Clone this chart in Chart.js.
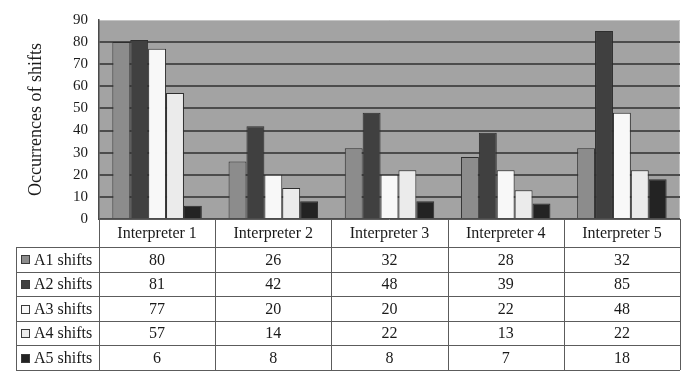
<!DOCTYPE html>
<html>
<head>
<meta charset="utf-8">
<script src="https://cdn.jsdelivr.net/npm/chart.js@4/dist/chart.umd.min.js"></script>
<style>
  html, body { margin: 0; padding: 0; background: #fff; }
  canvas { display: block; }
</style>
</head>
<body>
<canvas id="shiftsChart" width="700" height="384"></canvas>
<script>
const categories = ['Interpreter 1', 'Interpreter 2', 'Interpreter 3', 'Interpreter 4', 'Interpreter 5'];
const seriesNames = ['A1 shifts', 'A2 shifts', 'A3 shifts', 'A4 shifts', 'A5 shifts'];
const a1Shifts = [80, 26, 32, 28, 32];
const a2Shifts = [81, 42, 48, 39, 85];
const a3Shifts = [77, 20, 20, 22, 48];
const a4Shifts = [57, 14, 22, 13, 22];
const a5Shifts = [6, 8, 8, 7, 18];
const yTicks = [0, 10, 20, 30, 40, 50, 60, 70, 80, 90];

const seriesValues = [a1Shifts, a2Shifts, a3Shifts, a4Shifts, a5Shifts];
const seriesColors = ['#8c8c8c', '#404040', '#f8f8f8', '#ebebeb', '#232323'];
const serif = '"Liberation Serif", "Times New Roman", serif';
const textColor = '#1a1a1a';

// grey plot area behind the bars
const plotBackground = {
    id: 'plotBackground',
    beforeDraw(chart) {
        const { ctx, chartArea: a } = chart;
        ctx.save();
        ctx.fillStyle = '#a3a3a3';
        ctx.fillRect(a.left, a.top, a.right - a.left, a.bottom - a.top);
        ctx.strokeStyle = '#c4c4c4';
        ctx.lineWidth = 1;
        ctx.beginPath();
        ctx.moveTo(a.left, a.top + 0.5);
        ctx.lineTo(a.right - 0.5, a.top + 0.5);
        ctx.lineTo(a.right - 0.5, a.bottom);
        ctx.stroke();
        ctx.restore();
    }
};

// data table under the plot, columns follow the x scale
const dataTable = {
    id: 'dataTable',
    afterDraw(chart) {
        const { ctx, chartArea: a } = chart;
        const xs = chart.scales.x;
        const colW = (xs.right - xs.left) / categories.length;
        const headerH = 28;
        const rowH = 24.6;
        const tableLeft = 16;
        const top = a.bottom;
        const rowsTop = top + headerH;
        const bottom = rowsTop + rowH * seriesNames.length;

        ctx.save();
        ctx.fillStyle = '#ffffff';
        ctx.fillRect(xs.left, top, xs.right - xs.left, headerH);
        ctx.fillRect(tableLeft, rowsTop, xs.right - tableLeft, bottom - rowsTop);

        ctx.strokeStyle = '#5c5c5c';
        ctx.lineWidth = 1;
        ctx.beginPath();
        // header top and column lines
        ctx.moveTo(xs.left, Math.round(top) + 0.5);
        ctx.lineTo(xs.right, Math.round(top) + 0.5);
        for (let i = 0; i <= categories.length; i++) {
            const cx = Math.round(xs.left + i * colW) + 0.5;
            ctx.moveTo(cx, top);
            ctx.lineTo(cx, bottom);
        }
        // row lines
        for (let r = 0; r <= seriesNames.length; r++) {
            const y = Math.round(rowsTop + r * rowH) + 0.5;
            ctx.moveTo(tableLeft, y);
            ctx.lineTo(xs.right, y);
        }
        ctx.moveTo(tableLeft + 0.5, rowsTop);
        ctx.lineTo(tableLeft + 0.5, bottom);
        ctx.stroke();

        ctx.fillStyle = textColor;
        ctx.font = '16px ' + serif;
        ctx.textAlign = 'center';
        ctx.textBaseline = 'middle';
        categories.forEach((c, i) => {
            ctx.fillText(c, xs.getPixelForValue(i), top + headerH / 2 + 1);
        });

        seriesNames.forEach((name, r) => {
            const cy = rowsTop + r * rowH + rowH / 2 + 1;
            // legend key
            ctx.fillStyle = seriesColors[r];
            ctx.fillRect(21, Math.round(cy - 5), 9, 9);
            ctx.strokeStyle = '#3a3a3a';
            ctx.strokeRect(21.5, Math.round(cy - 5) + 0.5, 8, 8);
            ctx.fillStyle = textColor;
            ctx.textAlign = 'left';
            ctx.fillText(name, 34, cy);
            ctx.textAlign = 'center';
            seriesValues[r].forEach((v, i) => {
                ctx.fillText(String(v), xs.getPixelForValue(i), cy);
            });
        });
        ctx.restore();
    }
};

new Chart(document.getElementById('shiftsChart'), {
    type: 'bar',
    data: {
        labels: categories,
        datasets: seriesNames.map((name, i) => ({
            label: name,
            data: seriesValues[i],
            backgroundColor: seriesColors[i],
            borderColor: '#2e2e2e',
            borderWidth: 1,
            barPercentage: 1,
            categoryPercentage: 0.77
        }))
    },
    options: {
        responsive: false,
        animation: false,
        devicePixelRatio: 1,
        layout: { padding: { top: 17, right: 20, bottom: 165, left: 0 } },
        plugins: {
            legend: { display: false },
            tooltip: { enabled: false }
        },
        scales: {
            x: {
                display: false
            },
            y: {
                min: 0,
                max: 90,
                afterBuildTicks(scale) {
                    scale.ticks = yTicks.map(v => ({ value: v }));
                },
                afterFit(scale) {
                    scale.width = 99;
                },
                border: { display: true, color: '#4a4a4a', width: 1.5 },
                grid: {
                    drawTicks: false,
                    color: ctx => (ctx.tick && ctx.tick.value === 90) ? 'rgba(0,0,0,0)' : '#4c4c4c',
                    lineWidth: 2
                },
                ticks: {
                    padding: 11,
                    color: textColor,
                    font: { family: serif, size: 15 }
                },
                title: {
                    display: true,
                    text: 'Occurrences of shifts',
                    color: textColor,
                    font: { family: serif, size: 18 },
                    padding: { top: 25, bottom: 0 }
                }
            }
        }
    },
    plugins: [plotBackground, dataTable]
});
</script>
</body>
</html>
